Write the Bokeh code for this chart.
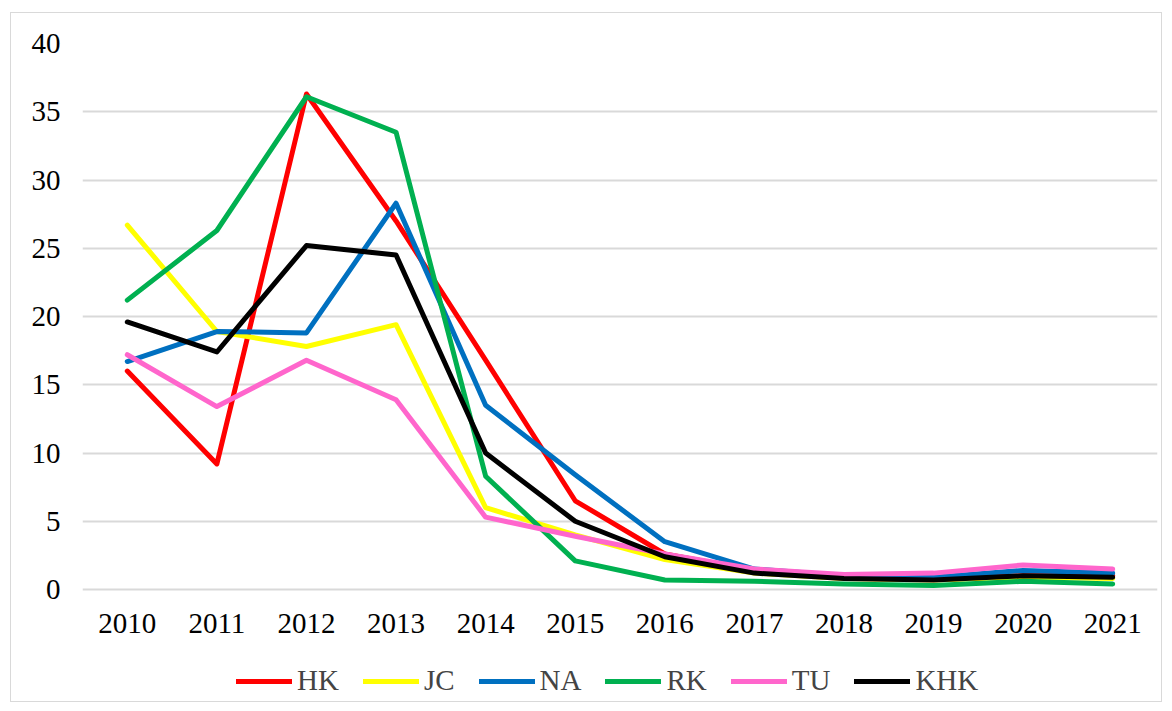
from bokeh.plotting import figure
from bokeh.models import Legend, LegendItem, FixedTicker, Range1d, ColumnDataSource
from bokeh.core.properties import value
from bokeh.embed import file_html
from bokeh.resources import INLINE

years = [2010, 2011, 2012, 2013, 2014, 2015, 2016, 2017, 2018, 2019, 2020, 2021]
year_labels = [str(y) for y in years]
HK = [16.0, 9.2, 36.3, 27.0, 16.8, 6.5, 2.6, 1.4, 1.0, 0.8, 1.0, 1.0]
JC = [26.7, 18.9, 17.8, 19.4, 6.0, 4.0, 2.2, 1.2, 0.8, 0.7, 0.9, 0.8]
NA = [16.7, 18.9, 18.8, 28.3, 13.5, 8.4, 3.5, 1.5, 1.0, 0.9, 1.4, 1.2]
RK = [21.2, 26.3, 36.1, 33.5, 8.3, 2.1, 0.7, 0.6, 0.4, 0.3, 0.6, 0.4]
TU = [17.2, 13.4, 16.8, 13.9, 5.3, 3.9, 2.6, 1.5, 1.1, 1.2, 1.8, 1.5]
KHK = [19.6, 17.4, 25.2, 24.5, 10.0, 5.0, 2.4, 1.2, 0.8, 0.7, 1.0, 0.9]

series = [("HK", HK, "#FF0000"), ("JC", JC, "#FFFF00"), ("NA", NA, "#0070C0"),
          ("RK", RK, "#00B050"), ("TU", TU, "#FF66CC"), ("KHK", KHK, "#000000")]
y_ticks = [0, 5, 10, 15, 20, 25, 30, 35, 40]

FONT = "Liberation Serif"
PLOT_H = 546      # pixels for 0..40
EXTRA_H = 112     # room below the zero line for year labels and legend
y_min = -EXTRA_H * 40 / PLOT_H

p = figure(frame_width=1075, frame_height=PLOT_H + EXTRA_H, output_backend="svg",
           toolbar_location=None,
           x_range=Range1d(2009.5, 2021.5), y_range=Range1d(y_min, 40),
           min_border_left=71, min_border_right=4, min_border_top=30, min_border_bottom=0,
           background_fill_color="white", border_fill_color="white")
p.styles = {"border": "1px solid #d9d9d9"}
p.margin = (12, 0, 0, 10)
p.outline_line_color = None

items = []
for name, vals, col in series:
    r = p.line(years, vals, line_color=col, line_width=5, line_join="round", line_cap="round")
    items.append(LegendItem(label=name, renderers=[r]))

# year labels under the zero line
src = ColumnDataSource(dict(x=years, y=[0] * len(years), t=year_labels))
p.text(x="x", y="y", text="t", source=src, y_offset=34,
       text_font=value(FONT), text_font_size="29px", text_color="#000000",
       text_align="center", text_baseline="middle")

p.xaxis.visible = False
p.xgrid.grid_line_color = None
p.ygrid.grid_line_color = "#d9d9d9"
p.ygrid.grid_line_width = 2
p.ygrid.ticker = FixedTicker(ticks=y_ticks)

ax = p.yaxis[0]
ax.axis_line_color = None
ax.major_tick_line_color = None
ax.minor_tick_line_color = None
ax.major_tick_out = 0
ax.major_tick_in = 0
ax.major_label_text_font = FONT
ax.major_label_text_font_size = "29px"
ax.major_label_text_color = "#000000"
ax.ticker = FixedTicker(ticks=y_ticks)
ax.major_label_standoff = 22

legend = Legend(items=items, orientation="horizontal", location=(154, 4),
                label_text_font=FONT, label_text_font_size="29px",
                glyph_width=56, glyph_height=20, spacing=24, label_standoff=5,
                border_line_color=None, background_fill_alpha=0, margin=0, padding=0)
p.add_layout(legend, "center")

open("out.html", "w").write(file_html(p, INLINE))
